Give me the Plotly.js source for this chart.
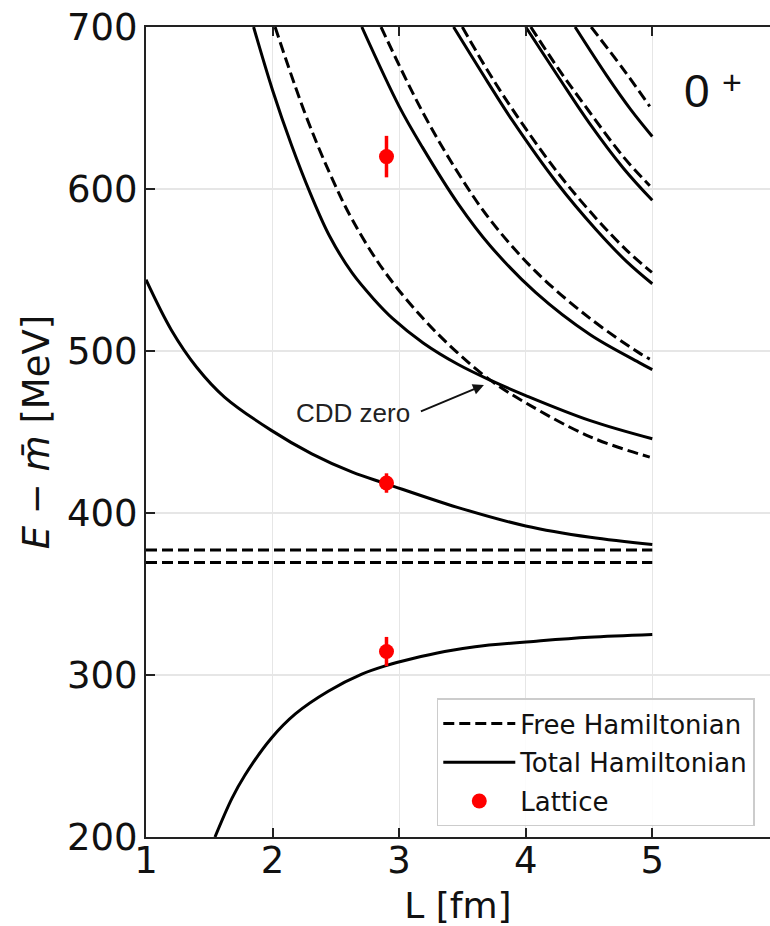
<!DOCTYPE html>
<html><head><meta charset="utf-8">
<script src="https://cdn.plot.ly/plotly-3.0.1.min.js"></script>
<style>html,body{margin:0;padding:0;background:#fff}#chart{width:770px;height:926px}</style>
</head><body><div id="chart"></div>
<script>
// ---- Free Hamiltonian levels (dashed) ----
const freeThrL = [1, 5];
const freeThrA = [377.2, 377.2];
const freeThrB = [369.5, 369.5];
const free1L = [2.02, 2.25, 2.45, 2.63, 2.885, 3.19, 3.46, 3.72, 4.0, 4.51, 4.98];
const free1E = [700, 648, 610, 581, 549, 520, 499, 482, 468, 447, 434.5];
const free2L = [2.857, 3.182, 3.465, 3.719, 4.08, 4.51, 4.893, 4.98];
const free2E = [700, 648, 610, 581, 549, 520, 499, 495];
const free3L = [3.499, 3.7, 3.897, 4.244, 4.555, 4.8, 4.997];
const free3E = [700, 673, 649, 611, 582, 562, 548.5];
const free4L = [4.04, 4.26, 4.5, 4.77, 4.98];
const free4E = [700, 674, 648, 620, 602];
const free5L = [4.517, 4.77, 4.98];
const free5E = [700, 674, 651];

// ---- Total Hamiltonian levels (solid) ----
const total0L = [1.545, 1.68, 1.78, 1.99, 2.18, 2.44, 2.705, 2.89, 3.10, 3.36, 3.6, 4.1, 4.5, 5.0];
const total0E = [200, 224, 238, 261, 276, 290, 300.5, 305.6, 310, 314.5, 317.5, 321, 323.3, 325];
const total1L = [1.0, 1.2, 1.4, 1.62, 1.99, 2.31, 2.63, 2.9, 3.46, 4.0, 4.51, 5.0];
const total1E = [544, 513, 490, 471.6, 451, 436.5, 425.2, 418, 403.5, 392, 385, 380.5];
const total2L = [1.85, 2.0, 2.15, 2.3, 2.45, 2.63, 2.8, 2.95, 3.19, 3.46, 3.72, 4.0, 4.51, 5.0];
const total2E = [700, 661, 627, 597, 571, 548, 532, 520, 505, 492, 482, 472.5, 457, 445.8];
const total3L = [2.705, 3.0, 3.182, 3.465, 3.719, 4.08, 4.51, 4.893, 5.0];
const total3E = [700, 651, 626, 591, 565, 536, 510, 493, 488.5];
const total4L = [3.43, 3.7, 3.897, 4.244, 4.555, 4.8, 5.0];
const total4E = [700, 666, 642, 604, 575, 555, 541.5];
const total5L = [4.0, 4.26, 4.5, 4.77, 5.0];
const total5E = [700, 669, 641, 613, 593];
const total6L = [4.39, 4.64, 4.83, 5.0];
const total6E = [700, 670, 649, 632.4];

// ---- Lattice ----
const latL = [2.9, 2.9, 2.9];
const latE = [620, 418.5, 314.5];
const latErr = [12.8, 6, 9];

const xTicks = [1, 2, 3, 4, 5];
const yTicks = [200, 300, 400, 500, 600, 700];

const FONT = 'DejaVu Sans';
const dashStyle = {color: '#000', width: 3, dash: '11px,5px', shape: 'spline'};
const solidStyle = {color: '#000', width: 3, shape: 'spline'};

const freeSets = [[freeThrL, freeThrA], [freeThrL, freeThrB], [free1L, free1E], [free2L, free2E],
                  [free3L, free3E], [free4L, free4E], [free5L, free5E]];
const totalSets = [[total0L, total0E], [total1L, total1E], [total2L, total2E], [total3L, total3E],
                   [total4L, total4E], [total5L, total5E], [total6L, total6E]];

const traces = [];
freeSets.forEach((s, i) => traces.push({
  x: s[0], y: s[1], type: 'scatter', mode: 'lines', line: dashStyle,
  name: 'Free Hamiltonian', legendgroup: 'free', showlegend: i === 0, hoverinfo: 'skip'
}));
totalSets.forEach((s, i) => traces.push({
  x: s[0], y: s[1], type: 'scatter', mode: 'lines', line: solidStyle,
  name: 'Total Hamiltonian', legendgroup: 'total', showlegend: i === 0, hoverinfo: 'skip'
}));
traces.push({
  x: latL, y: latE, type: 'scatter', mode: 'markers', name: 'Lattice', legendgroup: 'lat',
  marker: {color: '#ff0000', size: 15},
  error_y: {type: 'data', array: latErr, visible: true, color: '#ff0000', thickness: 3.5, width: 0}
});

const layout = {
  width: 770, height: 926,
  margin: {l: 146, r: 0, t: 27, b: 89},
  paper_bgcolor: '#fff', plot_bgcolor: '#fff',
  showlegend: true,
  font: {family: FONT, color: '#111'},
  xaxis: {
    range: [1, 5.93], tickvals: xTicks, ticktext: xTicks.map(String),
    ticks: 'inside', ticklen: 9, tickwidth: 2, tickcolor: '#222',
    showline: true, linecolor: '#222', linewidth: 2, mirror: 'ticks',
    showgrid: true, gridcolor: '#e6e6e6', gridwidth: 1.2, zeroline: false,
    tickfont: {family: FONT, size: 37, color: '#111'}, ticklabelstandoff: -10,
    title: {text: 'L [fm]', font: {family: FONT, size: 36, color: '#111'}, standoff: 22}
  },
  yaxis: {
    range: [200, 700], tickvals: yTicks, ticktext: yTicks.map(String),
    ticks: 'inside', ticklen: 9, tickwidth: 2, tickcolor: '#222',
    showline: true, linecolor: '#222', linewidth: 2, mirror: false,
    showgrid: true, gridcolor: '#e6e6e6', gridwidth: 1.2, zeroline: false,
    tickfont: {family: FONT, size: 37, color: '#111'}, ticklabelstandoff: -1,
    title: {text: '<i>E</i> − <i>m̄</i> [MeV]', font: {family: FONT, size: 37, color: '#111'}, standoff: 6}
  },
  legend: {
    x: 0.466, y: 0.171, xanchor: 'left', yanchor: 'top',
    bgcolor: 'rgba(255,255,255,0.85)', bordercolor: '#cccccc', borderwidth: 1.5,
    font: {family: FONT, size: 26, color: '#111'},
    traceorder: 'grouped', tracegroupgap: 2, itemwidth: 72
  },
  annotations: [
    {x: 2.635, y: 461.6, xref: 'x', yref: 'y', text: 'CDD zero', showarrow: false,
     font: {family: 'Liberation Sans', size: 26, color: '#222'}},
    {x: 3.67, y: 479, xref: 'x', yref: 'y', ax: 3.16, ay: 462.3, axref: 'x', ayref: 'y',
     text: '', showarrow: true, arrowhead: 2, arrowsize: 1.1, arrowwidth: 2, arrowcolor: '#111'},
    {x: 5.356, y: 660.6, xref: 'x', yref: 'y', text: '0', showarrow: false,
     font: {family: 'Liberation Sans', size: 46, color: '#111'}},
    {x: 5.632, y: 666, xref: 'x', yref: 'y', text: '+', showarrow: false,
     font: {family: 'Liberation Sans', size: 34, color: '#111'}}
  ]
};

Plotly.newPlot('chart', traces, layout, {displayModeBar: false, staticPlot: true});
</script></body></html>
